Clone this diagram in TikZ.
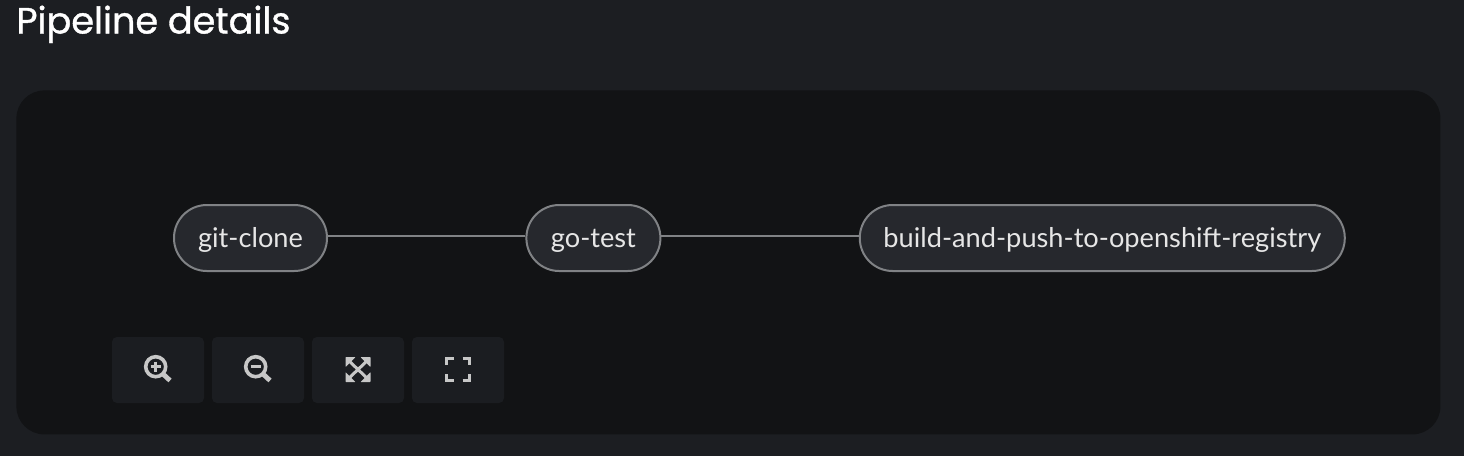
\documentclass[tikz,border=0pt]{standalone}
\usepackage{fontspec}
\setmainfont{Lato}
\newfontfamily\titlefont[FakeBold=1]{Poppins}
\usetikzlibrary{positioning}
\definecolor{pagebg}{HTML}{1C1E22}
\definecolor{panelbg}{HTML}{121315}
\definecolor{taskfill}{HTML}{26282D}
\definecolor{taskline}{HTML}{808285}
\definecolor{tasktext}{HTML}{E6E6E6}
\definecolor{btnfill}{HTML}{1B1D21}
\definecolor{iconcol}{HTML}{C7C7C7}

\begin{document}
\begin{tikzpicture}[x=0.5pt,y=-0.5pt,
		task/.style={
			draw=taskline,
			fill=taskfill,
			text=tasktext,
			line width=1pt,
			rounded corners=16.4pt,
			minimum height=33pt,
			inner sep=0pt,
			text height=12pt,
			text depth=2.4pt,
			font=\fontsize{13.6}{13.6}\selectfont,
		},
		link/.style={draw=taskline,line width=1pt},
		btn/.style={
			fill=btnfill,
			rounded corners=2.5pt,
			minimum width=46pt,
			minimum height=33pt,
			inner sep=0pt,
		},
		icon/.style={draw=iconcol,line width=1.8pt},
		iconsolid/.style={fill=iconcol,draw=none},
	]
	\useasboundingbox (0,0) rectangle (1464,456);
	\fill[pagebg] (0,0) rectangle (1464,456);
	\node[fill=panelbg,rounded corners=14pt,minimum width=712pt,minimum height=172pt,inner sep=0pt,anchor=north west] (panel) at (16,90) {};
	\node[anchor=base west,inner sep=0pt,text=white,font=\titlefont\fontsize{18.3}{18.3}\selectfont] (title) at (16,33.5) {Pipeline details};

	% pipeline tasks
	\node[task,minimum width=76.5pt] (gitclone) at (250.5,238) {git-clone};
	\node[task,minimum width=67pt,right=98.7pt of gitclone] (gotest) {go-test};
	\node[task,minimum width=242.5pt,right=98.7pt of gotest] (buildpush) {build-and-push-to-openshift-registry};
	\draw[link] ([yshift=0.9pt]gitclone.east) -- ([yshift=0.9pt]gotest.west);
	\draw[link] ([yshift=0.9pt]gotest.east) -- ([yshift=0.9pt]buildpush.west);

	% toolbar
	\foreach \n/\cx in {zoomin/158,zoomout/258,fit/358,expand/458}{
		\node[btn] (\n) at (\cx,370) {};
	}
	% zoom in
	\draw[icon] (155.7,366.7) circle (5pt);
	\draw[icon,line width=2.4pt] (163,374) -- (170,380.5);
	\draw[iconcol,line width=1.4pt] (150.5,366.7) -- (161,366.7) (155.7,361.5) -- (155.7,372);
	% zoom out
	\draw[icon] (255.7,366.7) circle (5pt);
	\draw[icon,line width=2.4pt] (263,374) -- (270,380.5);
	\draw[iconcol,line width=1.4pt] (250.5,366.7) -- (261,366.7);
	% fit to screen
	\draw[iconcol,line width=1.5pt] (347,359) -- (369,380) (369,359) -- (347,380);
	\foreach \sx/\sy in {345.5/357,370.5/357,345.5/382,370.5/382}{
		\fill[iconsolid,rounded corners=0.3pt] (\sx,\sy) -- ++({\sx<358?10:-10},0) -- (\sx,{\sy+(\sy<370?10:-10)}) -- cycle;
	}
	% expand
	\draw[icon,line width=1.6pt] (446.6,365) -- (446.6,358.6) -- (453.5,358.6);
	\draw[icon,line width=1.6pt] (462.5,358.6) -- (469.4,358.6) -- (469.4,365);
	\draw[icon,line width=1.6pt] (446.6,374) -- (446.6,380.4) -- (453.5,380.4);
	\draw[icon,line width=1.6pt] (462.5,380.4) -- (469.4,380.4) -- (469.4,374);
\end{tikzpicture}
\end{document}
